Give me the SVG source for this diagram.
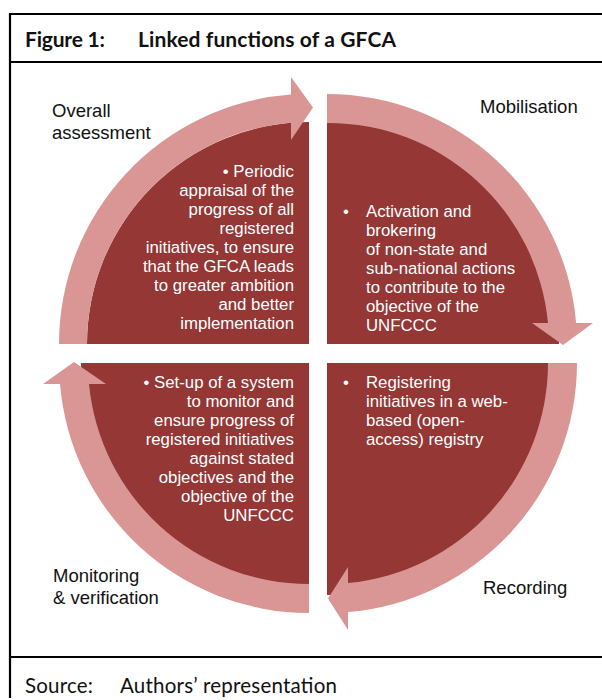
<svg xmlns="http://www.w3.org/2000/svg" width="602" height="700" viewBox="0 0 602 700">
<style>
.frame{stroke:#000;stroke-width:2.2;fill:none}
.dark{fill:#943735}
.band{fill:#D99694}
.hd{font-family:Lato,"Open Sans",sans-serif;font-weight:700;font-size:21px;fill:#111}
.src{font-family:Lato,"Open Sans",sans-serif;font-size:20.5px;fill:#111}
.lbl{font-family:"Liberation Sans",Arial,sans-serif;font-size:18.5px;fill:#111}
.in{font-family:"Liberation Sans",Arial,sans-serif;font-size:16.8px;fill:#fff}
.r{text-anchor:end}
</style>
<rect width="602" height="700" fill="#fff"/>
<g id="frame">
<line class="frame" x1="10" y1="14" x2="602" y2="14"/>
<line class="frame" x1="10" y1="62" x2="602" y2="62"/>
<line class="frame" x1="10" y1="657" x2="602" y2="657"/>
<line class="frame" x1="10" y1="13" x2="10" y2="698"/>
<text class="hd" x="25" y="47" textLength="80">Figure 1:</text>
<text class="hd" x="138" y="47" textLength="258">Linked functions of a GFCA</text>
<text class="src" x="25" y="693" textLength="68">Source:</text>
<text class="src" x="120" y="693" textLength="217">Authors’ representation</text>
</g>
<g id="overall-assessment">
<path class="dark" d="M309 344 L87 344 A222 222 0 0 1 309 122 Z"/>
<text class="lbl" x="52" y="117">Overall</text>
<text class="lbl" x="52" y="139">assessment</text>
<text class="in r" x="294" y="177">• Periodic</text>
<text class="in r" x="294" y="196">appraisal of the</text>
<text class="in r" x="294" y="215">progress of all</text>
<text class="in r" x="294" y="234">registered</text>
<text class="in r" x="294" y="253">initiatives, to ensure</text>
<text class="in r" x="294" y="272">that the GFCA leads</text>
<text class="in r" x="294" y="291">to greater ambition</text>
<text class="in r" x="294" y="310">and better</text>
<text class="in r" x="294" y="329">implementation</text>
</g>
<g id="mobilisation">
<path class="dark" d="M327 344 L327 112 A232 232 0 0 1 559 344 Z"/>
<text class="lbl" x="480" y="113">Mobilisation</text>
<text class="in" x="343" y="217">•</text>
<text class="in" x="366" y="217">Activation and</text>
<text class="in" x="366" y="236">brokering</text>
<text class="in" x="366" y="255">of non-state and</text>
<text class="in" x="366" y="274">sub-national actions</text>
<text class="in" x="366" y="293">to contribute to the</text>
<text class="in" x="366" y="312">objective of the</text>
<text class="in" x="366" y="331">UNFCCC</text>
</g>
<g id="recording">
<path class="dark" d="M327 363 L559 363 A232 232 0 0 1 327 595 Z"/>
<text class="lbl" x="483" y="594">Recording</text>
<text class="in" x="343" y="388">•</text>
<text class="in" x="366" y="388">Registering</text>
<text class="in" x="366" y="407">initiatives in a web-</text>
<text class="in" x="366" y="426">based (open-</text>
<text class="in" x="366" y="445">access) registry</text>
</g>
<g id="monitoring-verification">
<path class="dark" d="M309 363 L309 591 A228 228 0 0 1 81 363 Z"/>
<text class="lbl" x="53" y="582">Monitoring</text>
<text class="lbl" x="53" y="604">&amp; verification</text>
<text class="in r" x="294" y="388">• Set-up of a system</text>
<text class="in r" x="294" y="407">to monitor and</text>
<text class="in r" x="294" y="426">ensure progress of</text>
<text class="in r" x="294" y="445">registered initiatives</text>
<text class="in r" x="294" y="464">against stated</text>
<text class="in r" x="294" y="483">objectives and the</text>
<text class="in r" x="294" y="502">objective of the</text>
<text class="in r" x="294" y="521">UNFCCC</text>
</g>
<g id="connectors">
<path class="band" d="M59 344 A250 250 0 0 1 291 94.6 L291 77 L313 107.5 L291 140 L291 122.7 A222 222 0 0 0 87 344 Z"/>
<path class="band" d="M327 94 A250 250 0 0 1 576.1 323 L593 323 L563 345 L532 323 L548 323 A221 221 0 0 0 327 123 Z"/>
<path class="band" d="M577 363 A250 250 0 0 1 348 612.1 L348 630 L328 598.5 L348 567 L348 583 A221 221 0 0 0 548 363 Z"/>
<path class="band" d="M309 613 A250 250 0 0 1 60 384 L43 384 L74 362 L106 384 L89 384 A221 221 0 0 0 309 584 Z"/>
</g>
</svg>
